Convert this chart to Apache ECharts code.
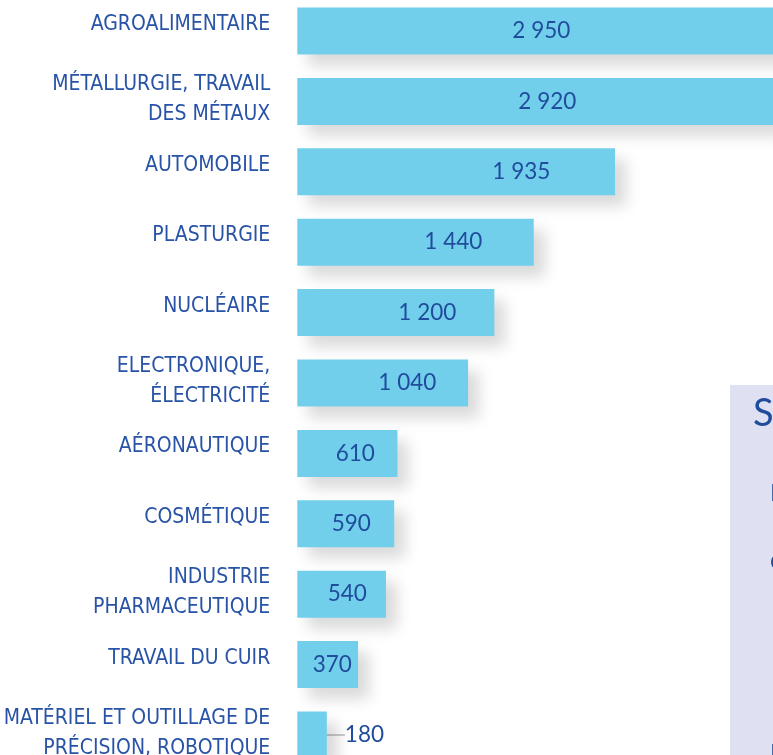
<!DOCTYPE html>
<html>
<head>
<meta charset="utf-8">
<script src="https://cdn.jsdelivr.net/npm/echarts@6/dist/echarts.min.js"></script>
<style>
html,body{margin:0;padding:0;background:#fff;}
#chart{width:773px;height:755px;}
</style>
</head>
<body>
<div id="chart"></div>
<script>
// ---- data ----
var categories = [
  'AGROALIMENTAIRE',
  'MÉTALLURGIE, TRAVAIL\nDES MÉTAUX',
  'AUTOMOBILE',
  'PLASTURGIE',
  'NUCLÉAIRE',
  'ELECTRONIQUE,\nÉLECTRICITÉ',
  'AÉRONAUTIQUE',
  'COSMÉTIQUE',
  'INDUSTRIE\nPHARMACEUTIQUE',
  'TRAVAIL DU CUIR',
  'MATÉRIEL ET OUTILLAGE DE\nPRÉCISION, ROBOTIQUE'
];
var values = [2950, 2920, 1935, 1440, 1200, 1040, 610, 590, 540, 370, 180];
var boxTitle = 'S';

// ---- styling (label anchor offsets in px from bar start) ----
var labelOffsets = [244, 250, 224, 156, 130, 110, 58, 54, 50, 35, null];

function fmt(v) {
  var s = String(v);
  return s.length > 3 ? s.slice(0, s.length - 3) + ' ' + s.slice(-3) : s;
}

var seriesData = values.map(function (v, i) {
  var item = { value: v };
  if (labelOffsets[i] != null) {
    item.label = { position: [labelOffsets[i], '50%'], align: 'center', verticalAlign: 'middle' };
  } else {
    item.label = { position: 'right', distance: 4, align: 'left', verticalAlign: 'middle' };
    item.labelLine = { show: true, lineStyle: { color: '#a8a8a8', width: 1.2 } };
  }
  return item;
});

var labelFont = '"Liberation Sans Narrow", "DejaVu Sans Condensed", sans-serif';

var chart = echarts.init(document.getElementById('chart'), null, { renderer: 'canvas' });
chart.setOption({
  backgroundColor: '#ffffff',
  animation: false,
  grid: { left: 297.3, right: -16.9, top: -4.2, bottom: -15.2, containLabel: false, outerBoundsMode: 'none' },
  xAxis: {
    type: 'value', min: 0, max: 3000,
    show: false
  },
  yAxis: {
    type: 'category',
    data: categories,
    inverse: true,
    axisLine: { show: false },
    axisTick: { show: false },
    axisLabel: {
      margin: 27,
      color: '#2853a6',
      fontFamily: labelFont,
      fontSize: 21,
      lineHeight: 30,
      align: 'right',
      padding: [0, 0, 3, 0],
      formatter: function (v) {
        var lines = v.split('\n');
        if (lines.length === 1) { return '{s|' + v + '}'; }
        return lines.map(function (l) { return '{m|' + l + '}'; }).join('\n');
      },
      rich: {
        s: { color: '#2853a6', fontFamily: labelFont, fontSize: 21, lineHeight: 30, padding: [0, 0, 10, 0], align: 'right' },
        m: { color: '#2853a6', fontFamily: labelFont, fontSize: 21, lineHeight: 30, align: 'right' }
      }
    }
  },
  series: [{
    type: 'bar',
    data: seriesData,
    barWidth: 47,
    itemStyle: {
      color: '#72cfeb',
      shadowColor: 'rgba(0,0,0,0.15)',
      shadowBlur: 14,
      shadowOffsetX: 11,
      shadowOffsetY: 11
    },
    label: {
      show: true,
      color: '#1f4c9c',
      fontFamily: 'Lato, "Open Sans", sans-serif',
      fontSize: 22.5,
      formatter: function (p) { return fmt(p.value); }
    },
    labelLayout: function (p) {
      if (p.dataIndex === values.length - 1) { return { dx: 14 }; }
      return {};
    }
  }],
  graphic: [
    { type: 'rect', x: 730, y: 385, shape: { x: 0, y: 0, width: 60, height: 380 }, style: { fill: '#dfe1f2' }, z: 0 },
    { type: 'text', x: 753, y: 395, style: { text: boxTitle, fill: '#1f4c9c', font: '38px Lato, "Open Sans", sans-serif', textVerticalAlign: 'top' }, z: 1 },
    { type: 'text', x: 770, y: 481, style: { text: 'I', fill: '#1f4c9c', font: '24px Lato, sans-serif', textVerticalAlign: 'top' }, z: 1 },
    { type: 'text', x: 770, y: 548, style: { text: 'c', fill: '#1f4c9c', font: '26px Lato, sans-serif', textVerticalAlign: 'top' }, z: 1 },
    { type: 'text', x: 770, y: 741, style: { text: 'I', fill: '#1f4c9c', font: '24px Lato, sans-serif', textVerticalAlign: 'top' }, z: 1 }
  ]
});
</script>
</body>
</html>
